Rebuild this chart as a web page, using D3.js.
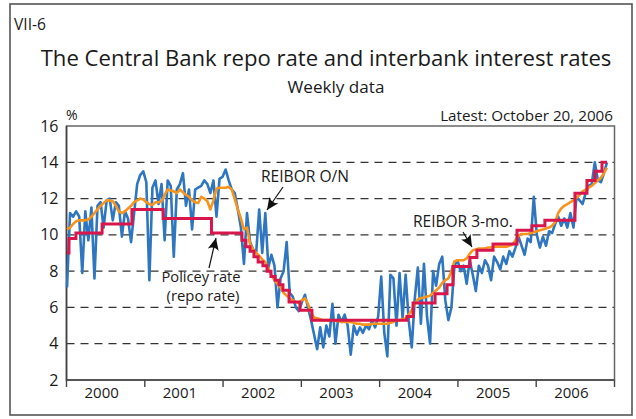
<!DOCTYPE html>
<html>
<head>
<meta charset="utf-8">
<script src="https://cdn.jsdelivr.net/npm/d3@7"></script>
<style>
  body { margin: 0; background: #fff; }
  text { font-family: "Open Sans", "Noto Sans", sans-serif; fill: #1a1a1a; }
</style>
</head>
<body>
<svg id="chart" width="636" height="419"></svg>
<script>
// ---- data -------------------------------------------------------------
const years = ["2000", "2001", "2002", "2003", "2004", "2005", "2006"];
const yTicks = [2, 4, 6, 8, 10, 12, 14, 16];
const gridValues = [4, 6, 8, 10, 12, 14];

// observations every second Friday, first 7 Jan 2000, last 20 Oct 2006
const firstObs = "2000-01-07";
const lastObs = "2006-10-20";

// REIBOR overnight rate, %
const reiborON = [
  7.1, 11.2, 11.0, 11.3, 11.0, 7.9, 11.3, 9.7, 11.5, 7.6,
  11.6, 11.8, 10.4, 11.9, 12.0, 10.8, 11.8, 11.6, 9.9, 11.3,
  10.9, 9.6, 11.2, 12.8, 13.3, 13.5, 12.9, 7.5, 12.6, 13.0,
  11.7, 12.8, 9.7, 13.0, 12.7, 8.8, 12.5, 12.8, 13.4, 11.6,
  12.5, 10.3, 12.5, 12.6, 12.7, 13.0, 12.8, 12.3, 13.0, 11.0,
  13.1, 13.2, 13.6, 13.0, 12.5, 12.3, 11.4, 10.4, 8.4, 11.2,
  9.6, 9.2, 9.0, 11.4, 9.0, 11.2, 8.2, 8.9, 8.3, 6.0,
  7.6, 8.0, 9.6, 6.8, 6.6, 6.0, 5.8, 6.3, 6.7, 6.0,
  5.3, 4.5, 3.7, 4.9, 3.8, 5.0, 4.4, 6.2, 4.0, 5.6,
  5.2, 5.6, 5.0, 3.4, 5.0, 4.5, 4.9, 4.6, 5.0, 4.8,
  5.3, 4.9, 5.5, 7.7, 4.6, 3.3, 7.8, 7.6, 5.0, 7.9,
  5.4, 7.8, 5.3, 3.8, 6.5, 8.2, 5.1, 8.4, 5.5, 4.0,
  8.0, 7.2, 8.4, 8.8, 6.4, 5.3, 6.0, 8.3, 8.6, 8.0,
  8.3, 7.3, 8.6, 7.8, 6.9, 8.3, 7.9, 8.6, 8.3, 7.5,
  8.8, 8.5, 8.1, 8.8, 8.4, 9.1, 8.8, 9.3, 9.9, 9.4,
  8.9, 9.8, 9.6, 12.1, 10.0, 9.3, 9.9, 9.4, 10.2, 10.1,
  10.6, 11.0, 10.5, 10.9, 10.4, 11.2, 10.4, 12.1, 11.9, 11.7,
  12.3, 12.7, 12.8, 14.0, 13.0, 12.9, 13.4, 14.0
];

// REIBOR 3-month rate, %
const reibor3m = [
  10.3, 10.4, 10.6, 10.75, 10.8, 10.8, 10.8, 10.85, 11.0, 11.2,
  11.4, 11.6, 11.75, 11.9, 11.9, 11.85, 11.6, 11.3, 11.2, 11.3,
  11.45, 11.6, 11.8, 11.9, 12.0, 11.95, 11.8, 11.7, 11.65, 11.8,
  11.8, 11.85, 12.2, 12.5, 12.45, 12.4, 12.3, 12.5, 12.35, 12.2,
  12.1, 11.9, 11.8, 11.75, 12.1, 12.0, 11.85, 11.4, 11.9, 12.55,
  12.6, 12.6, 12.6, 12.65, 12.5, 11.95, 11.4, 10.9, 10.3, 10.4,
  9.5, 9.2, 9.0, 8.85, 8.65, 8.5, 8.15, 7.8, 7.5, 7.3,
  7.1, 6.8, 6.65, 6.5, 6.4, 6.3, 6.25, 6.4, 6.5, 6.2,
  5.7, 5.45, 5.4, 5.35, 5.3, 5.3, 5.3, 5.3, 5.25, 5.25,
  5.2, 5.2, 5.2, 5.2, 5.15, 5.1, 5.1, 5.05, 5.05, 5.05,
  5.1, 5.1, 5.1, 5.1, 5.1, 5.1, 5.15, 5.2, 5.3, 5.3,
  5.35, 5.4, 5.6, 5.85, 6.2, 6.45, 6.5, 6.55, 6.6, 6.65,
  6.8, 6.95, 7.1, 7.35, 7.5, 7.6, 8.0, 8.55, 8.6, 8.6,
  8.6, 8.7, 8.95, 9.15, 9.2, 9.25, 9.25, 9.25, 9.3, 9.3,
  9.35, 9.35, 9.35, 9.35, 9.35, 9.4, 9.45, 9.7, 9.95, 10.05,
  10.05, 10.05, 10.1, 10.15, 10.2, 10.25, 10.3, 10.35, 10.4, 10.5,
  10.7, 11.2, 11.45, 11.6, 11.7, 11.8, 11.9, 12.05, 12.2, 12.4,
  12.5, 12.6, 12.7, 12.85, 13.0, 13.15, 13.4, 13.7
];

// Central Bank repo rate: date of change, new rate %
const policyRate = [
  ["2000-01-07", 9.0], ["2000-01-16", 9.8], ["2000-02-17", 10.1],
  ["2000-06-16", 10.6], ["2000-10-31", 11.4], ["2001-03-23", 10.9],
  ["2001-10-31", 10.1], ["2002-03-20", 9.7], ["2002-04-07", 9.35],
  ["2002-04-26", 9.1], ["2002-05-14", 8.8], ["2002-06-02", 8.5],
  ["2002-06-24", 8.3], ["2002-07-13", 8.0], ["2002-07-31", 7.7],
  ["2002-08-19", 7.5], ["2002-09-06", 7.25], ["2002-09-24", 6.95],
  ["2002-10-22", 6.3], ["2002-12-11", 5.85], ["2003-02-04", 5.3],
  ["2004-04-15", 5.5], ["2004-05-13", 6.25], ["2004-08-22", 6.75],
  ["2004-10-16", 7.25], ["2004-11-12", 8.25], ["2005-01-29", 8.75],
  ["2005-03-02", 9.15], ["2005-05-15", 9.5], ["2005-09-02", 10.25],
  ["2005-11-10", 10.5], ["2006-01-08", 10.8], ["2006-05-26", 12.3],
  ["2006-07-20", 13.0], ["2006-08-26", 13.5], ["2006-09-27", 14.0]
];

// ---- layout -------------------------------------------------------------
const svg = d3.select("#chart");
const plot = { left: 66.5, right: 614.5, top: 126, bottom: 380 };
const parse = d3.timeParse("%Y-%m-%d");
const start = parse(firstObs), end = parse(lastObs);

const x = d3.scaleTime().domain([start, end]).range([67, 607]);
const y = d3.scaleLinear().domain([2, 16]).range([plot.bottom, plot.top]);
const yearBand = d3.scaleBand().domain(years).range([plot.left, plot.right]);

const obsDates = reiborON.map((_, i) => d3.timeDay.offset(start, 14 * i));
const seriesON = reiborON.map((v, i) => ({ date: obsDates[i], value: v }));
const series3m = reibor3m.map((v, i) => ({ date: obsDates[i], value: v }));
const seriesPolicy = policyRate.map(d => ({ date: parse(d[0]), value: d[1] }));
seriesPolicy.push({ date: end, value: policyRate[policyRate.length - 1][1] });

// outer frame
svg.append("rect")
  .attr("x", 10).attr("y", 4).attr("width", 622).attr("height", 411)
  .attr("fill", "none").attr("stroke", "#555").attr("stroke-width", 1.6);

// fit a text element to a target width
function fitWidth(sel, w) {
  const len = sel.node().getComputedTextLength();
  const fs = parseFloat(sel.attr("font-size"));
  sel.attr("font-size", (fs * w / len).toFixed(2));
}

// titles
const tag = svg.append("text").attr("x", 14).attr("y", 30).attr("font-size", 17).text("VII-6");
fitWidth(tag, 32);
const title = svg.append("text").attr("x", 326).attr("y", 66).attr("text-anchor", "middle")
  .attr("font-size", 24).text("The Central Bank repo rate and interbank interest rates");
fitWidth(title, 571);
const sub = svg.append("text").attr("x", 336).attr("y", 93).attr("text-anchor", "middle")
  .attr("font-size", 17).text("Weekly data");
fitWidth(sub, 97);
svg.append("text").attr("x", 66).attr("y", 120).attr("font-size", 14).text("%");
const latest = svg.append("text").attr("x", 613).attr("y", 121).attr("text-anchor", "end")
  .attr("font-size", 15).text("Latest: October 20, 2006");
fitWidth(latest, 173);

// grid lines
svg.append("g").selectAll("line").data(gridValues).join("line")
  .attr("x1", plot.left).attr("x2", plot.right)
  .attr("y1", d => y(d)).attr("y2", d => y(d))
  .attr("stroke", "#333").attr("stroke-width", 1.2)
  .attr("stroke-dasharray", "8,6");

// y axis labels
const yAxis = d3.axisLeft(y).tickValues(yTicks).tickSize(0).tickPadding(8);
svg.append("g").attr("transform", `translate(${plot.left},0)`).call(yAxis)
  .call(g => g.select(".domain").remove())
  .call(g => g.selectAll("text").attr("font-size", 16)
    .attr("font-family", "\"Open Sans\", sans-serif").attr("fill", "#1a1a1a"));

// x axis: year bands with ticks on boundaries
const xAxis = d3.axisBottom(yearBand).tickSize(0).tickPadding(7);
const gx = svg.append("g").attr("transform", `translate(0,${plot.bottom})`).call(xAxis);
gx.select(".domain").remove();
gx.selectAll("text").attr("font-size", 15).attr("dx", -4)
  .attr("font-family", "\"Open Sans\", sans-serif").attr("fill", "#1a1a1a");
const boundaries = years.map(yr => yearBand(yr)).concat([plot.right]);
gx.selectAll("line.yt").data(boundaries).join("line").attr("class", "yt")
  .attr("x1", d => d).attr("x2", d => d).attr("y1", 0).attr("y2", 7)
  .attr("stroke", "#444").attr("stroke-width", 1.4);

// plot frame
svg.append("rect")
  .attr("x", plot.left).attr("y", plot.top)
  .attr("width", plot.right - plot.left).attr("height", plot.bottom - plot.top)
  .attr("fill", "none").attr("stroke", "#666").attr("stroke-width", 1.5);
svg.append("path")
  .attr("d", `M${plot.left},${plot.top}V${plot.bottom}H${plot.right}`)
  .attr("fill", "none").attr("stroke", "#444").attr("stroke-width", 1.6);

// series
const line = d3.line().x(d => x(d.date)).y(d => y(d.value));
svg.append("path").datum(seriesON).attr("d", line)
  .attr("fill", "none").attr("stroke", "#2f76c1").attr("stroke-width", 2.6)
  .attr("stroke-linejoin", "round");
svg.append("path").datum(series3m).attr("d", line)
  .attr("fill", "none").attr("stroke", "#f7941e").attr("stroke-width", 2.6)
  .attr("stroke-linejoin", "round");
svg.append("path").datum(seriesPolicy).attr("d", line.curve(d3.curveStepAfter))
  .attr("fill", "none").attr("stroke", "#d8164b").attr("stroke-width", 3);

// annotations
svg.append("defs").append("marker")
  .attr("id", "head").attr("viewBox", "-12 -6 13 12")
  .attr("refX", 0).attr("refY", 0)
  .attr("markerWidth", 13).attr("markerHeight", 12)
  .attr("markerUnits", "userSpaceOnUse").attr("orient", "auto")
  .append("path").attr("d", "M0,0 L-12,-5.5 Q-8,0 -12,5.5 Z").attr("fill", "#111");

function arrow(x1, y1, x2, y2) {
  svg.append("line").attr("x1", x1).attr("y1", y1).attr("x2", x2).attr("y2", y2)
    .attr("stroke", "#111").attr("stroke-width", 1.2).attr("marker-end", "url(#head)");
}
const onLab = svg.append("text").attr("x", 261).attr("y", 182).attr("font-size", 15).text("REIBOR O/N");
fitWidth(onLab, 88);
arrow(283, 187, 267, 210);

const m3Lab = svg.append("text").attr("x", 413).attr("y", 227).attr("font-size", 15).text("REIBOR 3-mo.");
fitWidth(m3Lab, 100);
arrow(463, 232, 472, 247);

const p1 = svg.append("text").attr("x", 201).attr("y", 282).attr("text-anchor", "middle")
  .attr("font-size", 15).text("Policey rate");
fitWidth(p1, 79);
const p2 = svg.append("text").attr("x", 203).attr("y", 301).attr("text-anchor", "middle")
  .attr("font-size", 15).text("(repo rate)");
fitWidth(p2, 73);
arrow(209, 268, 216, 238);
</script>
</body>
</html>
